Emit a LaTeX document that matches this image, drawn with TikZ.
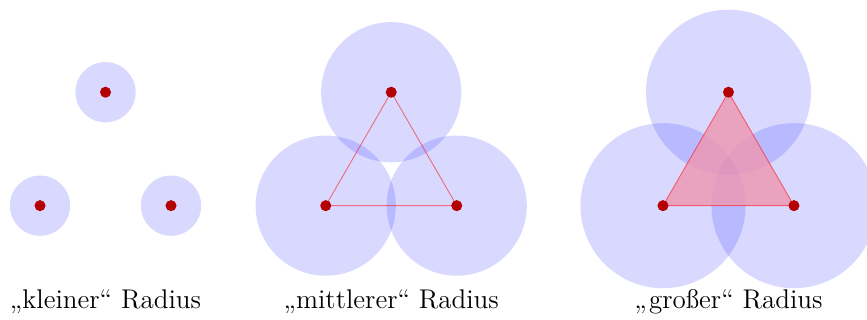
\documentclass[tikz,border=0pt]{standalone}
\usepackage{tikz}
\usetikzlibrary{backgrounds}
\definecolor{DotRed}{HTML}{B40000}
\definecolor{Disk}{HTML}{0000FF}
\definecolor{Rose}{HTML}{F096AF}

\begin{document}
\begin{tikzpicture}[
    pt/.style={circle,fill=DotRed,inner sep=0pt,minimum size=4.8pt},
    disk/.style={fill=Disk,fill opacity=.15},
    edge/.style={draw=red,draw opacity=.5,line width=.4pt},
    area/.style={edge,fill=Rose,fill opacity=.8},
    lbl/.style={anchor=base,font=\fontsize{11.75}{14}\selectfont}]
    \useasboundingbox (0,0) rectangle (13.237,4.885);
    % corner points
    \node[pt] (a1) at (0.611,1.745) {};
    \node[pt] (b1) at (2.611,1.745) {};
    \node[pt] (c1) at (1.611,3.477) {};
    \node[pt] (a2) at (4.973,1.745) {};
    \node[pt] (b2) at (6.973,1.745) {};
    \node[pt] (c2) at (5.973,3.477) {};
    \node[pt] (a3) at (10.122,1.745) {};
    \node[pt] (b3) at (12.122,1.745) {};
    \node[pt] (c3) at (11.122,3.477) {};
    % discs and triangles behind the points
    \begin{scope}[on background layer]
    \fill[disk] (a1) circle (0.46) (b1) circle (0.46) (c1) circle (0.46);
    \fill[disk] (a2) circle (1.07);
    \fill[disk] (b2) circle (1.07);
    \fill[disk] (c2) circle (1.07);
    \fill[disk] (a3) circle (1.26);
    \fill[disk] (b3) circle (1.26);
    \fill[disk] (c3) circle (1.26);
    \draw[edge] (a2.center)--(b2.center)--(c2.center)--cycle;
    \draw[area] (a3.center)--(b3.center)--(c3.center)--cycle;
    \end{scope}
    % captions
    \node[lbl] (small) at (1.611,0.17) {„kleiner“ Radius};
    \node[lbl] (mid) at (5.973,0.17) {„mittlerer“ Radius};
    \node[lbl] (big) at (11.122,0.17) {„großer“ Radius};
\end{tikzpicture}
\end{document}
